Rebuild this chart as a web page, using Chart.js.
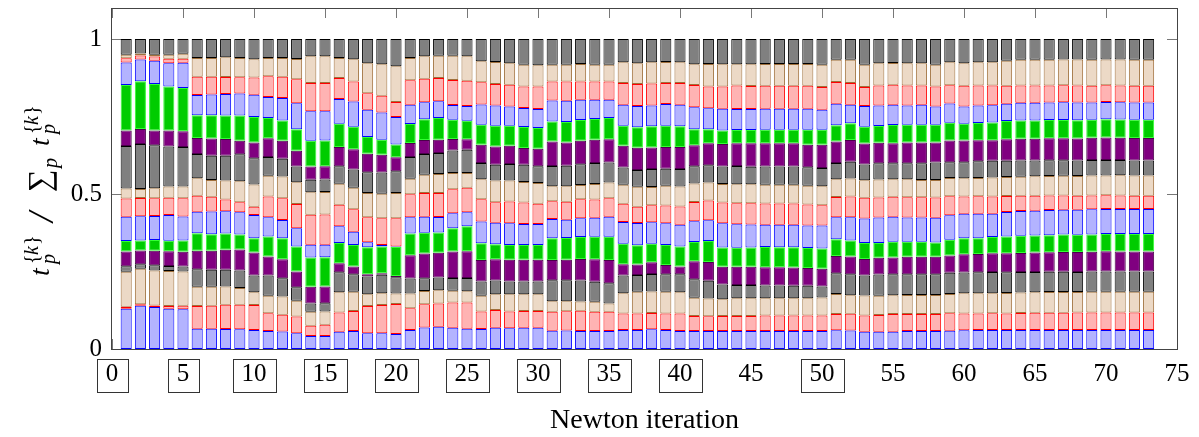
<!DOCTYPE html>
<html>
<head>
<meta charset="utf-8">
<script src="https://cdn.jsdelivr.net/npm/chart.js@4.4.1/dist/chart.umd.min.js"></script>
<style>
  html, body { margin: 0; padding: 0; background: #fff; }
</style>
</head>
<body>
<canvas id="shareChart" width="1199" height="437"></canvas>
<script>
// newton iterations (x positions of the bars)
var iterations = [1, 2, 3, 4, 5, 6, 7, 8, 9, 10, 11, 12, 13, 14, 15, 16, 17, 18, 19, 20,
    21, 22, 23, 24, 25, 26, 27, 28, 29, 30, 31, 32, 33, 34, 35, 36, 37, 38, 39, 40,
    41, 42, 43, 44, 45, 46, 47, 48, 49, 50, 51, 52, 53, 54, 55, 56, 57, 58, 59, 60,
    61, 62, 63, 64, 65, 66, 67, 68, 69, 70, 71, 72, 73];

var xTicks = [0, 5, 10, 15, 20, 25, 30, 35, 40, 45, 50, 55, 60, 65, 70, 75];
var yTicks = [0, 0.5, 1];
// iterations whose tick label gets a frame
var boxedTicks = [0, 5, 10, 15, 20, 25, 30, 35, 40, 50];

// time t_p spent on process p in each iteration (relative units)
var p0 = [.130,.139,.135,.130,.128,.065,.065,.065,.064,.061, .058,.056,.051,.042,.042,.056,.058,.051,.051,.048,
    .061,.069,.072,.069,.065,.065,.069,.067,.069,.069, .059,.060,.058,.058,.058,.061,.061,.064,.061,.058,
    .058,.058,.058,.058,.058,.058,.058,.058,.058,.058, .061,.060,.056,.056,.056,.058,.058,.058,.059,.061,
    .061,.061,.061,.061,.061,.061,.061,.061,.061,.061, .061,.061,.061];
var p1 = [.006,.005,.005,.009,.012,.074,.074,.078,.079,.081, .057,.054,.054,.033,.036,.062,.065,.088,.091,.097,
    .070,.075,.075,.081,.085,.056,.057,.054,.054,.054, .061,.062,.065,.062,.062,.054,.054,.052,.054,.057,
    .048,.048,.048,.048,.048,.050,.050,.050,.050,.050, .052,.054,.052,.054,.057,.055,.055,.055,.056,.054,
    .054,.054,.054,.055,.056,.056,.056,.057,.057,.057, .057,.057,.057];
var p2 = [.113,.114,.113,.113,.110,.062,.062,.059,.054,.041, .057,.059,.051,.045,.043,.065,.062,.038,.038,.034,
    .048,.043,.043,.038,.036,.051,.051,.056,.054,.054, .034,.032,.030,.032,.027,.065,.070,.070,.070,.068,
    .059,.057,.054,.057,.057,.056,.056,.056,.056,.058, .065,.059,.065,.062,.061,.061,.061,.061,.062,.065,
    .065,.065,.066,.066,.066,.067,.067,.066,.067,.067, .067,.067,.067];
var p3 = [.018,.015,.017,.016,.016,.056,.054,.054,.056,.054, .065,.059,.044,.027,.027,.065,.056,.057,.059,.052,
    .048,.041,.041,.041,.043,.046,.044,.041,.041,.041, .068,.068,.068,.065,.065,.057,.054,.056,.056,.058,
    .060,.057,.048,.043,.043,.041,.041,.040,.040,.036, .067,.068,.065,.069,.068,.067,.067,.067,.069,.067,
    .068,.068,.067,.066,.065,.065,.065,.065,.065,.065, .065,.065,.065];
var p4 = [.047,.044,.047,.047,.048,.060,.062,.065,.068,.074, .061,.061,.051,.054,.054,.029,.025,.008,.005,.004,
    .075,.080,.080,.086,.086,.070,.069,.070,.070,.070, .065,.066,.069,.072,.075,.037,.034,.038,.030,.025,
    .058,.061,.057,.059,.059,.059,.059,.059,.057,.057, .056,.057,.053,.054,.054,.057,.057,.057,.055,.059,
    .059,.061,.061,.062,.063,.063,.064,.064,.064,.065, .065,.065,.065];
var p5 = [.034,.032,.034,.034,.036,.056,.053,.052,.048,.046, .065,.068,.081,.094,.094,.065,.070,.087,.086,.093,
    .070,.067,.065,.075,.081,.054,.048,.048,.048,.048, .070,.070,.071,.073,.075,.066,.062,.060,.065,.065,
    .062,.067,.062,.061,.062,.065,.064,.065,.065,.065, .054,.052,.052,.048,.051,.048,.048,.046,.051,.052,
    .051,.052,.054,.055,.055,.055,.056,.056,.056,.056, .056,.056,.056];
var p6 = [.078,.078,.078,.083,.078,.070,.073,.072,.072,.075, .062,.059,.059,.041,.041,.054,.043,.016,.005,.002,
    .052,.052,.050,.048,.045,.070,.070,.070,.068,.068, .062,.059,.061,.061,.065,.070,.072,.069,.070,.070,
    .067,.067,.078,.076,.074,.072,.073,.073,.072,.074, .071,.075,.079,.082,.081,.079,.079,.080,.079,.079,
    .079,.075,.079,.080,.080,.081,.080,.081,.081,.081, .081,.081,.081];
var p7 = [.059,.059,.057,.056,.059,.051,.048,.038,.032,.027, .067,.070,.079,.097,.097,.070,.072,.081,.086,.091,
    .074,.076,.078,.078,.079,.072,.066,.070,.069,.065, .058,.058,.061,.059,.059,.059,.052,.055,.057,.059,
    .062,.064,.067,.067,.068,.068,.068,.068,.068,.066, .065,.067,.067,.065,.065,.065,.065,.065,.061,.056,
    .056,.056,.052,.049,.048,.047,.046,.045,.045,.044, .044,.043,.043];
var p8 = [.032,.029,.032,.036,.038,.057,.054,.062,.068,.072, .067,.070,.070,.073,.073,.068,.070,.078,.079,.081,
    .050,.059,.061,.052,.048,.065,.070,.068,.066,.067, .048,.050,.046,.050,.051,.061,.065,.059,.064,.065,
    .059,.058,.060,.061,.061,.061,.061,.061,.061,.061, .058,.058,.057,.058,.056,.058,.056,.057,.059,.059,
    .059,.061,.061,.062,.063,.063,.064,.064,.064,.064, .065,.065,.065];
var p9 = [.137,.145,.139,.129,.127,.078,.078,.080,.087,.084, .060,.057,.051,.040,.040,.056,.059,.067,.069,.070,
    .070,.067,.068,.073,.075,.052,.051,.053,.056,.054, .065,.066,.067,.067,.065,.056,.054,.058,.055,.056,
    .056,.056,.056,.059,.057,.059,.059,.059,.059,.059, .052,.054,.051,.052,.052,.052,.054,.056,.051,.052,
    .054,.054,.053,.052,.051,.051,.050,.050,.050,.050, .049,.049,.049];
var p10 = [.050,.048,.047,.052,.051,.052,.055,.054,.044,.051, .061,.058,.051,.043,.043,.062,.065,.060,.057,.045,
    .045,.045,.043,.037,.034,.059,.059,.059,.054,.057, .079,.075,.076,.075,.075,.070,.072,.070,.070,.071,
    .068,.071,.073,.073,.075,.075,.075,.075,.073,.075, .070,.070,.068,.067,.065,.067,.067,.065,.070,.070,
    .068,.066,.069,.070,.070,.071,.071,.071,.072,.072, .072,.072,.072];
var p11 = [.147,.154,.150,.142,.140,.073,.075,.076,.081,.082, .065,.065,.070,.083,.083,.075,.073,.054,.048,.041,
    .061,.067,.070,.062,.059,.065,.067,.065,.068,.067, .065,.066,.067,.067,.068,.065,.066,.068,.069,.067,
    .051,.045,.043,.043,.043,.043,.043,.043,.048,.048, .052,.054,.054,.054,.059,.057,.057,.057,.057,.054,
    .056,.058,.059,.059,.059,.059,.059,.059,.058,.059, .059,.059,.059];
var p12 = [.072,.070,.075,.075,.081,.065,.067,.069,.071,.072, .068,.073,.084,.095,.095,.080,.081,.088,.088,.089,
    .062,.055,.054,.048,.048,.065,.065,.062,.061,.061, .068,.069,.065,.062,.059,.068,.069,.067,.070,.070,
    .071,.068,.070,.068,.068,.068,.068,.068,.068,.065, .070,.060,.067,.066,.065,.062,.065,.059,.062,.056,
    .056,.055,.056,.057,.057,.056,.057,.057,.056,.056, .056,.056,.056];
var p13 = [.014,.013,.014,.014,.013,.059,.057,.055,.053,.056, .067,.068,.078,.091,.091,.068,.065,.054,.054,.048,
    .079,.076,.075,.081,.081,.072,.070,.070,.070,.073, .061,.062,.059,.059,.059,.070,.071,.071,.068,.070,
    .072,.070,.072,.075,.074,.074,.074,.074,.074,.073, .070,.070,.062,.065,.065,.065,.062,.065,.059,.067,
    .065,.064,.058,.056,.056,.055,.055,.055,.054,.054, .054,.054,.054];
var p14 = [.011,.006,.005,.013,.016,.061,.061,.064,.062,.059, .059,.061,.065,.086,.086,.065,.072,.097,.102,.115,
    .072,.072,.072,.078,.079,.068,.071,.070,.070,.068, .054,.054,.056,.054,.054,.067,.067,.069,.068,.067,
    .067,.072,.072,.069,.070,.070,.070,.070,.070,.072, .072,.075,.072,.072,.070,.072,.072,.070,.074,.073,
    .075,.075,.081,.083,.083,.083,.083,.084,.084,.083, .084,.084,.084];
var p15 = [.051,.047,.051,.051,.048,.061,.061,.059,.061,.065, .061,.061,.065,.056,.056,.061,.065,.078,.081,.088,
    .061,.056,.054,.054,.056,.072,.074,.078,.083,.085, .083,.083,.081,.083,.083,.075,.078,.075,.074,.075,
    .081,.081,.081,.081,.081,.081,.081,.081,.081,.083, .067,.067,.083,.078,.078,.078,.078,.083,.075,.078,
    .075,.075,.070,.067,.067,.067,.066,.066,.067,.066, .066,.067,.067];

var series = [p0, p1, p2, p3, p4, p5, p6, p7, p8, p9, p10, p11, p12, p13, p14, p15];

// fill / edge colours, repeating every six processes
var palette = [
    { fill: '#b3b3ff', edge: '#0000ff' },
    { fill: '#ffb3b3', edge: '#ff0000' },
    { fill: '#ecd9c6', edge: '#a0703c' },
    { fill: '#808080', edge: '#000000' },
    { fill: '#800080', edge: '#4a004a' },
    { fill: '#00cc00', edge: '#33ff33' }
];

var serifFont = "'Liberation Serif', 'Times New Roman', serif";
Chart.defaults.font.family = serifFont;
Chart.defaults.color = '#000';

// sum over p of t_p for every iteration
var totals = iterations.map(function (it, i) {
    return series.reduce(function (s, arr) { return s + arr[i]; }, 0);
});

var datasets = series.map(function (vals, k) {
    var c = palette[k % palette.length];
    return {
        label: 'p' + k,
        data: vals.map(function (v, i) { return { x: iterations[i], y: v / totals[i] }; }),
        backgroundColor: c.fill,
        borderColor: c.edge,
        borderWidth: 1,
        borderSkipped: false,
        barPercentage: 0.78,
        categoryPercentage: 1.0
    };
});

// tick marks inside the box, under the bars
var innerTicks = {
    id: 'innerTicks',
    beforeDatasetsDraw: function (chart) {
        var ctx = chart.ctx, a = chart.chartArea;
        var xs = chart.scales.x, ys = chart.scales.y;
        ctx.save();
        ctx.strokeStyle = '#777';
        ctx.lineWidth = 1;
        ctx.beginPath();
        xTicks.forEach(function (v) {
            var px = Math.round(xs.getPixelForValue(v)) + 0.5;
            ctx.moveTo(px, a.bottom); ctx.lineTo(px, a.bottom - 10);
            ctx.moveTo(px, a.top); ctx.lineTo(px, a.top + 10);
        });
        yTicks.forEach(function (v) {
            var py = Math.round(ys.getPixelForValue(v)) + 0.5;
            ctx.moveTo(a.left, py); ctx.lineTo(a.left + 10, py);
            ctx.moveTo(a.right, py); ctx.lineTo(a.right - 10, py);
        });
        ctx.stroke();
        ctx.restore();
    },
    afterDatasetsDraw: function (chart) {
        var ctx = chart.ctx, a = chart.chartArea;
        ctx.save();
        ctx.strokeStyle = '#444';
        ctx.lineWidth = 1;
        ctx.strokeRect(Math.round(a.left) - 0.5, Math.round(a.top) + 0.5,
            Math.round(a.right - a.left) + 1, Math.round(a.bottom - a.top));
        ctx.restore();
    }
};

// frames around some of the x tick labels
var tickBoxes = {
    id: 'tickBoxes',
    afterDraw: function (chart) {
        var ctx = chart.ctx, xs = chart.scales.x;
        ctx.save();
        ctx.font = '25px ' + serifFont;
        ctx.strokeStyle = '#333';
        ctx.lineWidth = 1;
        boxedTicks.forEach(function (v) {
            var px = xs.getPixelForValue(v);
            var w = ctx.measureText(String(v)).width;
            ctx.strokeRect(Math.round(px - w / 2 - 9) + 0.5, 359.5, Math.round(w + 18), 33);
        });
        ctx.restore();
    }
};

// y axis label  t_p^{k} / sum_p t_p^{k}, pieces placed along the rotated baseline
var yTitle = {
    id: 'yTitle',
    afterDraw: function (chart) {
        var ctx = chart.ctx;
        var it = 'italic 28px ' + serifFont;
        var sm = '20px ' + serifFont, smIt = 'italic 20px ' + serifFont;
        var sup = function (at) {
            return [{ t: '{', f: sm, at: at, dy: -11 }, { t: 'k', f: smIt, at: at + 9, dy: -11 },
                    { t: '}', f: sm, at: at + 19, dy: -11 }, { t: 'p', f: smIt, at: at, dy: 6 }];
        };
        var runs = [{ t: 't', f: it, at: 2, dy: 0 }]
            .concat(sup(14))
            .concat([{ t: '/', f: 'italic 36px ' + serifFont, at: 56, dy: 4 },
                     { t: '\u2211', f: '32px ' + serifFont, at: 86, dy: 1 },
                     { t: 'p', f: smIt, at: 110, dy: 8 },
                     { t: 't', f: it, at: 132, dy: 0 }])
            .concat(sup(144));
        ctx.save();
        ctx.fillStyle = '#000';
        ctx.textBaseline = 'alphabetic';
        ctx.translate(49, 278);
        ctx.rotate(-Math.PI / 2);
        runs.forEach(function (r) {
            ctx.font = r.f;
            ctx.fillText(r.t, r.at, r.dy);
        });
        ctx.restore();
    }
};

new Chart(document.getElementById('shareChart'), {
    type: 'bar',
    data: { datasets: datasets },
    options: {
        responsive: false,
        animation: false,
        devicePixelRatio: 1,
        layout: { padding: { top: 8, right: 22, left: 0, bottom: 0 } },
        plugins: { legend: { display: false }, tooltip: { enabled: false } },
        scales: {
            x: {
                type: 'linear',
                stacked: true,
                min: 0,
                max: 75,
                offset: false,
                grid: { display: false, drawTicks: false },
                border: { display: false },
                afterBuildTicks: function (s) { s.ticks = xTicks.map(function (v) { return { value: v }; }); },
                ticks: { font: { size: 25 }, padding: 10, maxRotation: 0, autoSkip: false, color: '#000' },
                title: { display: true, text: 'Newton iteration', font: { size: 28 }, color: '#000',
                    padding: { top: 0, bottom: 0 } },
                afterFit: function (s) {
                    s.height = 88;
                    s.paddingLeft = 0;
                    s.paddingRight = 0;
                }
            },
            y: {
                stacked: true,
                min: 0,
                max: 1.1,
                grid: { display: false, drawTicks: false },
                border: { display: false },
                afterBuildTicks: function (s) { s.ticks = yTicks.map(function (v) { return { value: v }; }); },
                ticks: {
                    font: { size: 25 }, padding: 10, color: '#000',
                    callback: function (v) { return String(v); }
                },
                afterFit: function (s) {
                    s.width = 112;
                    s.paddingTop = 0;
                    s.paddingBottom = 0;
                }
            }
        }
    },
    plugins: [innerTicks, tickBoxes, yTitle]
});
</script>
</body>
</html>
